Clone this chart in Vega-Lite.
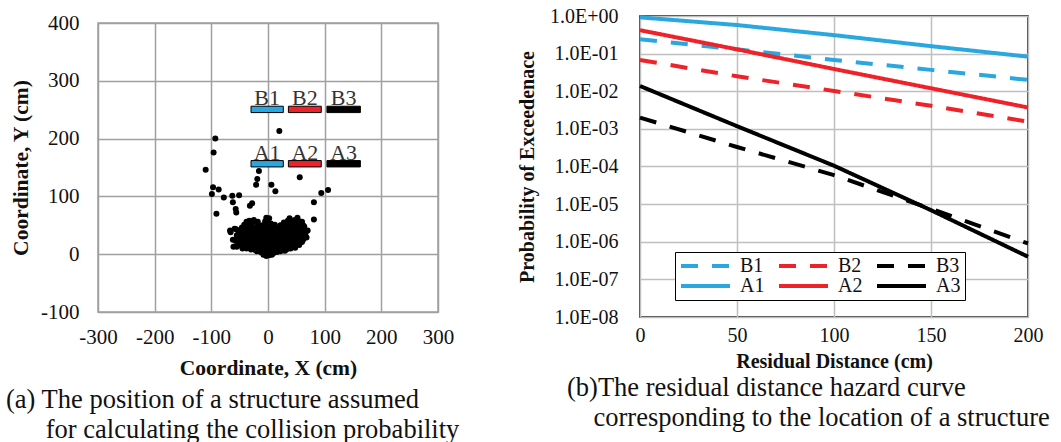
{
  "$schema": "https://vega.github.io/schema/vega-lite/v6.json",
  "padding": {"left": 5, "top": 5, "right": 0, "bottom": 0},
  "autosize": {"type": "pad"},
  "config": {
    "font": "Liberation Serif",
    "concat": {"spacing": 55},
    "title": {"font": "Liberation Serif", "fontWeight": "normal", "color": "#111"},
    "legend": {"labelFont": "Liberation Serif"},
    "axis": {"labelFont": "Liberation Serif", "titleFont": "Liberation Serif", "labelColor": "#111", "titleColor": "#111", "ticks": false, "domain": false, "labelOverlap": false, "labelFlush": false}
  },
  "resolve": {"legend": {"color": "independent", "strokeDash": "independent", "fill": "independent"}, "scale": {"color": "independent", "strokeDash": "independent", "fill": "independent"}},
  "datasets": {
    "pts": [
      {"x": -110, "y": 146}, {"x": -93, "y": 200}, {"x": -96, "y": 176}, {"x": -97, "y": 116}, {"x": -87, "y": 112}, {"x": -99, "y": 104}, {"x": -91, "y": 70}, {"x": -78, "y": 98}, {"x": -63, "y": 101}, {"x": -51, "y": 102}, {"x": -62, "y": 90}, {"x": -57, "y": 78}, {"x": -56, "y": 72}, {"x": -32, "y": 84}, {"x": -28, "y": 88}, {"x": -16, "y": 144}, {"x": -19, "y": 130}, {"x": -21, "y": 120}, {"x": 20, "y": 213}, {"x": 6, "y": 120}, {"x": 13, "y": 109}, {"x": 56, "y": 133}, {"x": 81, "y": 90}, {"x": 94, "y": 106}, {"x": 106, "y": 111}, {"x": 81, "y": 60}, {"x": -67, "y": 41}, {"x": -66, "y": 38}, {"x": -61, "y": 13}, {"x": -62, "y": 25}, {"x": -59, "y": 44}, {"x": 68, "y": 29}, {"x": 66, "y": 37},
      {"x": -8, "y": -1}, {"x": -3, "y": -3}, {"x": 2, "y": -2}, {"x": 7, "y": -1},
      {"x": -12, "y": 3}, {"x": -6, "y": 2}, {"x": 0, "y": 4}, {"x": 5, "y": 3}, {"x": 10, "y": 2}, {"x": 16, "y": 4},
      {"x": -30, "y": 8}, {"x": -22, "y": 7}, {"x": -16, "y": 9}, {"x": -10, "y": 7}, {"x": -4, "y": 8}, {"x": 2, "y": 9}, {"x": 8, "y": 7}, {"x": 14, "y": 8}, {"x": 20, "y": 10}, {"x": 27, "y": 7}, {"x": 34, "y": 9},
      {"x": -55, "y": 13}, {"x": -42, "y": 14}, {"x": -35, "y": 12}, {"x": -28, "y": 13}, {"x": -21, "y": 12}, {"x": -14, "y": 14}, {"x": -7, "y": 13}, {"x": 0, "y": 12}, {"x": 6, "y": 14}, {"x": 12, "y": 13}, {"x": 18, "y": 12}, {"x": 24, "y": 14}, {"x": 31, "y": 13}, {"x": 38, "y": 12}, {"x": 44, "y": 15},
      {"x": -48, "y": 18}, {"x": -38, "y": 19}, {"x": -31, "y": 17}, {"x": -24, "y": 18}, {"x": -17, "y": 19}, {"x": -10, "y": 17}, {"x": -3, "y": 18}, {"x": 4, "y": 19}, {"x": 10, "y": 17}, {"x": 17, "y": 18}, {"x": 23, "y": 19}, {"x": 30, "y": 17}, {"x": 36, "y": 18}, {"x": 43, "y": 19}, {"x": 50, "y": 18},
      {"x": -57, "y": 23}, {"x": -45, "y": 22}, {"x": -36, "y": 24}, {"x": -29, "y": 23}, {"x": -22, "y": 22}, {"x": -15, "y": 24}, {"x": -8, "y": 23}, {"x": -1, "y": 22}, {"x": 5, "y": 24}, {"x": 12, "y": 23}, {"x": 19, "y": 22}, {"x": 26, "y": 24}, {"x": 33, "y": 23}, {"x": 40, "y": 22}, {"x": 47, "y": 24}, {"x": 55, "y": 23},
      {"x": -50, "y": 28}, {"x": -42, "y": 27}, {"x": -34, "y": 29}, {"x": -27, "y": 28}, {"x": -20, "y": 27}, {"x": -13, "y": 29}, {"x": -6, "y": 28}, {"x": 1, "y": 27}, {"x": 8, "y": 29}, {"x": 15, "y": 28}, {"x": 22, "y": 27}, {"x": 29, "y": 29}, {"x": 36, "y": 28}, {"x": 43, "y": 27}, {"x": 50, "y": 29}, {"x": 58, "y": 28},
      {"x": -55, "y": 33}, {"x": -44, "y": 34}, {"x": -37, "y": 32}, {"x": -30, "y": 33}, {"x": -23, "y": 34}, {"x": -16, "y": 32}, {"x": -9, "y": 33}, {"x": -2, "y": 34}, {"x": 6, "y": 32}, {"x": 13, "y": 33}, {"x": 20, "y": 34}, {"x": 27, "y": 32}, {"x": 34, "y": 33}, {"x": 41, "y": 34}, {"x": 48, "y": 32}, {"x": 56, "y": 33},
      {"x": -47, "y": 38}, {"x": -38, "y": 39}, {"x": -30, "y": 37}, {"x": -22, "y": 38}, {"x": -14, "y": 39}, {"x": 0, "y": 37}, {"x": 10, "y": 38}, {"x": 18, "y": 39}, {"x": 26, "y": 37}, {"x": 33, "y": 38}, {"x": 40, "y": 39}, {"x": 48, "y": 37}, {"x": 58, "y": 38},
      {"x": -56, "y": 43}, {"x": -42, "y": 44}, {"x": -33, "y": 42}, {"x": -25, "y": 43}, {"x": -15, "y": 44}, {"x": -5, "y": 42}, {"x": 8, "y": 43}, {"x": 16, "y": 44}, {"x": 30, "y": 42}, {"x": 38, "y": 43}, {"x": 45, "y": 44}, {"x": 53, "y": 42}, {"x": 62, "y": 43},
      {"x": -40, "y": 48}, {"x": -30, "y": 49}, {"x": -20, "y": 47}, {"x": -8, "y": 48}, {"x": 3, "y": 49}, {"x": 25, "y": 47}, {"x": 35, "y": 48}, {"x": 44, "y": 49}, {"x": 52, "y": 47}, {"x": 64, "y": 48},
      {"x": -36, "y": 53}, {"x": -28, "y": 54}, {"x": -18, "y": 52}, {"x": 5, "y": 53}, {"x": 30, "y": 54}, {"x": 40, "y": 52}, {"x": 50, "y": 53}, {"x": 58, "y": 54},
      {"x": -33, "y": 58}, {"x": -25, "y": 59}, {"x": -5, "y": 57}, {"x": 35, "y": 58}, {"x": 47, "y": 59}, {"x": 55, "y": 57},
      {"x": -3, "y": 63}, {"x": 2, "y": 62}, {"x": 38, "y": 62}, {"x": 52, "y": 63},
      {"x": -20, "y": 5}, {"x": -14, "y": 5}, {"x": -8, "y": 5}, {"x": -2, "y": 6}, {"x": 4, "y": 5}, {"x": 12, "y": 5}, {"x": 22, "y": 5}, {"x": 30, "y": 6},
      {"x": -45, "y": 10}, {"x": -38, "y": 10}, {"x": -25, "y": 10}, {"x": -12, "y": 10}, {"x": 5, "y": 11}, {"x": 25, "y": 10}, {"x": 40, "y": 10}, {"x": 48, "y": 11},
      {"x": -52, "y": 16}, {"x": -44, "y": 16}, {"x": -26, "y": 16}, {"x": -6, "y": 15}, {"x": 14, "y": 16}, {"x": 27, "y": 16}, {"x": 47, "y": 15}, {"x": 55, "y": 16},
      {"x": -52, "y": 21}, {"x": -40, "y": 21}, {"x": -26, "y": 20}, {"x": -12, "y": 21}, {"x": 2, "y": 20}, {"x": 16, "y": 21}, {"x": 30, "y": 21}, {"x": 44, "y": 20}, {"x": 60, "y": 21},
      {"x": -55, "y": 26}, {"x": -38, "y": 26}, {"x": -24, "y": 25}, {"x": -10, "y": 26}, {"x": 4, "y": 26}, {"x": 18, "y": 25}, {"x": 32, "y": 26}, {"x": 46, "y": 26}, {"x": 62, "y": 25},
      {"x": -48, "y": 31}, {"x": -34, "y": 31}, {"x": -20, "y": 30}, {"x": -6, "y": 31}, {"x": 10, "y": 31}, {"x": 24, "y": 30}, {"x": 38, "y": 31}, {"x": 52, "y": 31}, {"x": 64, "y": 30},
      {"x": -52, "y": 36}, {"x": -42, "y": 36}, {"x": -26, "y": 35}, {"x": -8, "y": 36}, {"x": 5, "y": 36}, {"x": 14, "y": 35}, {"x": 22, "y": 36}, {"x": 37, "y": 36}, {"x": 52, "y": 35}, {"x": 66, "y": 36},
      {"x": -50, "y": 41}, {"x": -36, "y": 41}, {"x": -20, "y": 40}, {"x": -10, "y": 41}, {"x": 2, "y": 41}, {"x": 12, "y": 40}, {"x": 24, "y": 41}, {"x": 34, "y": 41}, {"x": 50, "y": 40}, {"x": 58, "y": 41}, {"x": 70, "y": 41},
      {"x": -46, "y": 46}, {"x": -35, "y": 46}, {"x": -25, "y": 45}, {"x": -14, "y": 46}, {"x": -2, "y": 46}, {"x": 10, "y": 45}, {"x": 18, "y": 46}, {"x": 30, "y": 46}, {"x": 40, "y": 45}, {"x": 58, "y": 46},
      {"x": -42, "y": 51}, {"x": -32, "y": 51}, {"x": -10, "y": 50}, {"x": 0, "y": 51}, {"x": 12, "y": 51}, {"x": 22, "y": 50}, {"x": 35, "y": 51}, {"x": 46, "y": 51}, {"x": 62, "y": 50},
      {"x": -38, "y": 56}, {"x": -18, "y": 56}, {"x": 0, "y": 56}, {"x": 28, "y": 55}, {"x": 42, "y": 56}, {"x": 60, "y": 56}
    ],
    "structs": [
      {"name": "B1", "x1": -30, "x2": 27, "xc": -1.5, "y1": 245, "y2": 256},
      {"name": "B2", "x1": 36, "x2": 94, "xc": 65, "y1": 245, "y2": 256},
      {"name": "B3", "x1": 104, "x2": 163, "xc": 133.5, "y1": 245, "y2": 256},
      {"name": "A1", "x1": -30, "x2": 27, "xc": -1.5, "y1": 151, "y2": 162},
      {"name": "A2", "x1": 36, "x2": 94, "xc": 65, "y1": 151, "y2": 162},
      {"name": "A3", "x1": 104, "x2": 163, "xc": 133.5, "y1": 151, "y2": 162}
    ],
    "curves": [
      {"s": "A1", "d": 0, "p": 0.92}, {"s": "A1", "d": 50, "p": 0.575}, {"s": "A1", "d": 100, "p": 0.31}, {"s": "A1", "d": 150, "p": 0.158}, {"s": "A1", "d": 200, "p": 0.083},
      {"s": "B1", "d": 0, "p": 0.24}, {"s": "B1", "d": 50, "p": 0.13}, {"s": "B1", "d": 100, "p": 0.068}, {"s": "B1", "d": 150, "p": 0.037}, {"s": "B1", "d": 200, "p": 0.02},
      {"s": "A2", "d": 0, "p": 0.42}, {"s": "A2", "d": 50, "p": 0.13}, {"s": "A2", "d": 100, "p": 0.039}, {"s": "A2", "d": 150, "p": 0.012}, {"s": "A2", "d": 200, "p": 0.0037},
      {"s": "B2", "d": 0, "p": 0.068}, {"s": "B2", "d": 50, "p": 0.025}, {"s": "B2", "d": 100, "p": 0.0102}, {"s": "B2", "d": 150, "p": 0.0041}, {"s": "B2", "d": 200, "p": 0.00155},
      {"s": "A3", "d": 0, "p": 0.0138}, {"s": "A3", "d": 50, "p": 0.00118}, {"s": "A3", "d": 100, "p": 0.000105}, {"s": "A3", "d": 150, "p": 0.0000069}, {"s": "A3", "d": 200, "p": 0.0000004},
      {"s": "B3", "d": 0, "p": 0.002}, {"s": "B3", "d": 50, "p": 0.00033}, {"s": "B3", "d": 100, "p": 0.000059}, {"s": "B3", "d": 150, "p": 0.0000075}, {"s": "B3", "d": 200, "p": 0.0000009}
    ]
  },
  "hconcat": [
    {
      "spacing": 0,
      "bounds": "flush",
      "vconcat": [
        {
          "width": 340,
          "height": 7,
          "view": {"stroke": null},
          "data": {"values": []},
          "mark": "point"
        },
        {
          "width": 340,
          "height": 289,
          "view": {"stroke": "#A0A0A0", "strokeWidth": 1.5},
          "title": {
            "text": ["(a) The position of a structure assumed", "\u200b\u00a0\u00a0\u00a0\u00a0\u00a0\u00a0for calculating the collision probability"],
            "orient": "bottom", "anchor": "start", "frame": "group", "dx": -92, "offset": 8,
            "fontSize": 26.5, "lineHeight": 30, "fontWeight": "normal"
          },
          "layer": [
            {
              "data": {"name": "pts"},
              "mark": {"type": "circle", "size": 36, "opacity": 1, "color": "black"},
              "encoding": {
                "x": {"field": "x", "type": "quantitative", "scale": {"domain": [-300, 300], "nice": false},
                  "axis": {"values": [-300, -200, -100, 0, 100, 200, 300], "labelExpr": "'' + datum.value", "grid": true, "gridColor": "#A0A0A0", "gridWidth": 1.5, "labelFontSize": 21, "labelPadding": 14, "title": "Coordinate, X (cm)", "titleFontSize": 21.5, "titleFontWeight": "bold", "titlePadding": 10}},
                "y": {"field": "y", "type": "quantitative", "scale": {"domain": [-100, 400], "nice": false},
                  "axis": {"values": [-100, 0, 100, 200, 300, 400], "labelExpr": "'' + datum.value", "grid": true, "gridColor": "#A0A0A0", "gridWidth": 1.5, "labelFontSize": 21, "labelPadding": 19, "title": "Coordinate, Y (cm)", "titleFontSize": 21.5, "titleFontWeight": "bold", "titlePadding": 8}}
              }
            },
            {
              "data": {"name": "structs"},
              "mark": {"type": "rect", "stroke": "black", "strokeWidth": 1},
              "encoding": {
                "x": {"field": "x1", "type": "quantitative"},
                "x2": {"field": "x2"},
                "y": {"field": "y1", "type": "quantitative"},
                "y2": {"field": "y2"},
                "fill": {"field": "name", "type": "nominal", "legend": null,
                  "scale": {"domain": ["A1", "A2", "A3", "B1", "B2", "B3"], "range": ["#2AA7DF", "#EE2229", "#000000", "#2AA7DF", "#EE2229", "#000000"]}}
              }
            },
            {
              "data": {"name": "structs"},
              "mark": {"type": "text", "baseline": "alphabetic", "dy": -1, "fontSize": 22, "color": "#333", "font": "Liberation Serif"},
              "encoding": {
                "x": {"field": "xc", "type": "quantitative"},
                "y": {"field": "y2", "type": "quantitative"},
                "text": {"field": "name"}
              }
            }
          ]
        }
      ]
    },
    {
      "width": 388,
      "height": 301,
      "view": {"stroke": "black", "strokeWidth": 1.5},
      "title": {
        "text": ["(b)The residual distance hazard curve", "\u200b\u00a0\u00a0\u00a0\u00a0corresponding to the location of a structure"],
        "orient": "bottom", "anchor": "start", "frame": "group", "dx": -73, "offset": 4,
        "fontSize": 26.5, "lineHeight": 30, "fontWeight": "normal"
      },
      "data": {"name": "curves"},
      "mark": {"type": "line", "strokeWidth": 4, "strokeCap": "butt"},
      "encoding": {
        "x": {"field": "d", "type": "quantitative", "scale": {"domain": [0, 200], "nice": false},
          "axis": {"values": [0, 50, 100, 150, 200], "grid": true, "gridColor": "#BFBFBF", "gridWidth": 1.5, "labelFontSize": 20, "labelPadding": 8, "title": "Residual Distance (cm)", "titleFontSize": 20, "titleFontWeight": "bold", "titlePadding": 6}},
        "y": {"field": "p", "type": "quantitative", "scale": {"type": "log", "domain": [1e-8, 1], "nice": false},
          "axis": {"values": [1e-8, 1e-7, 1e-6, 1e-5, 1e-4, 1e-3, 1e-2, 1e-1, 1], "grid": true, "gridColor": "#BFBFBF", "gridWidth": 1.5, "labelFontSize": 20, "labelPadding": 22, "title": "Probability of Exceedenace", "titleFontSize": 20, "titleFontWeight": "bold", "titlePadding": 12,
            "labelExpr": "'1.0E' + (round(log(datum.value)/LN10) >= 0 ? '+' : '-') + (abs(round(log(datum.value)/LN10)) < 10 ? '0' : '') + abs(round(log(datum.value)/LN10))"}},
        "color": {"field": "s", "type": "nominal",
          "scale": {"domain": ["B1", "B2", "B3", "A1", "A2", "A3"], "range": ["#2AA7DF", "#EE2229", "#000000", "#2AA7DF", "#EE2229", "#000000"]},
          "legend": {"title": null, "orient": "none", "legendX": 35, "legendY": 236, "direction": "horizontal", "columns": 3, "symbolType": "stroke", "symbolSize": 2401, "symbolStrokeWidth": 4, "clipHeight": 20, "labelFontSize": 20, "labelFont": "Liberation Serif", "labelColor": "#111", "labelOffset": 8, "columnPadding": 12, "rowPadding": 0, "padding": 4, "strokeColor": "black", "fillColor": "white"}},
        "strokeDash": {"field": "s", "type": "nominal",
          "scale": {"domain": ["B1", "B2", "B3", "A1", "A2", "A3"], "range": [[17, 14], [17, 14], [17, 14], [1, 0], [1, 0], [1, 0]]},
          "legend": {"title": null, "orient": "none", "legendX": 35, "legendY": 236, "direction": "horizontal", "columns": 3, "symbolType": "stroke", "symbolSize": 2401, "symbolStrokeWidth": 4, "clipHeight": 20, "labelFontSize": 20, "labelFont": "Liberation Serif", "labelColor": "#111", "labelOffset": 8, "columnPadding": 12, "rowPadding": 0, "padding": 4, "strokeColor": "black", "fillColor": "white"}}
      }
    }
  ]
}
